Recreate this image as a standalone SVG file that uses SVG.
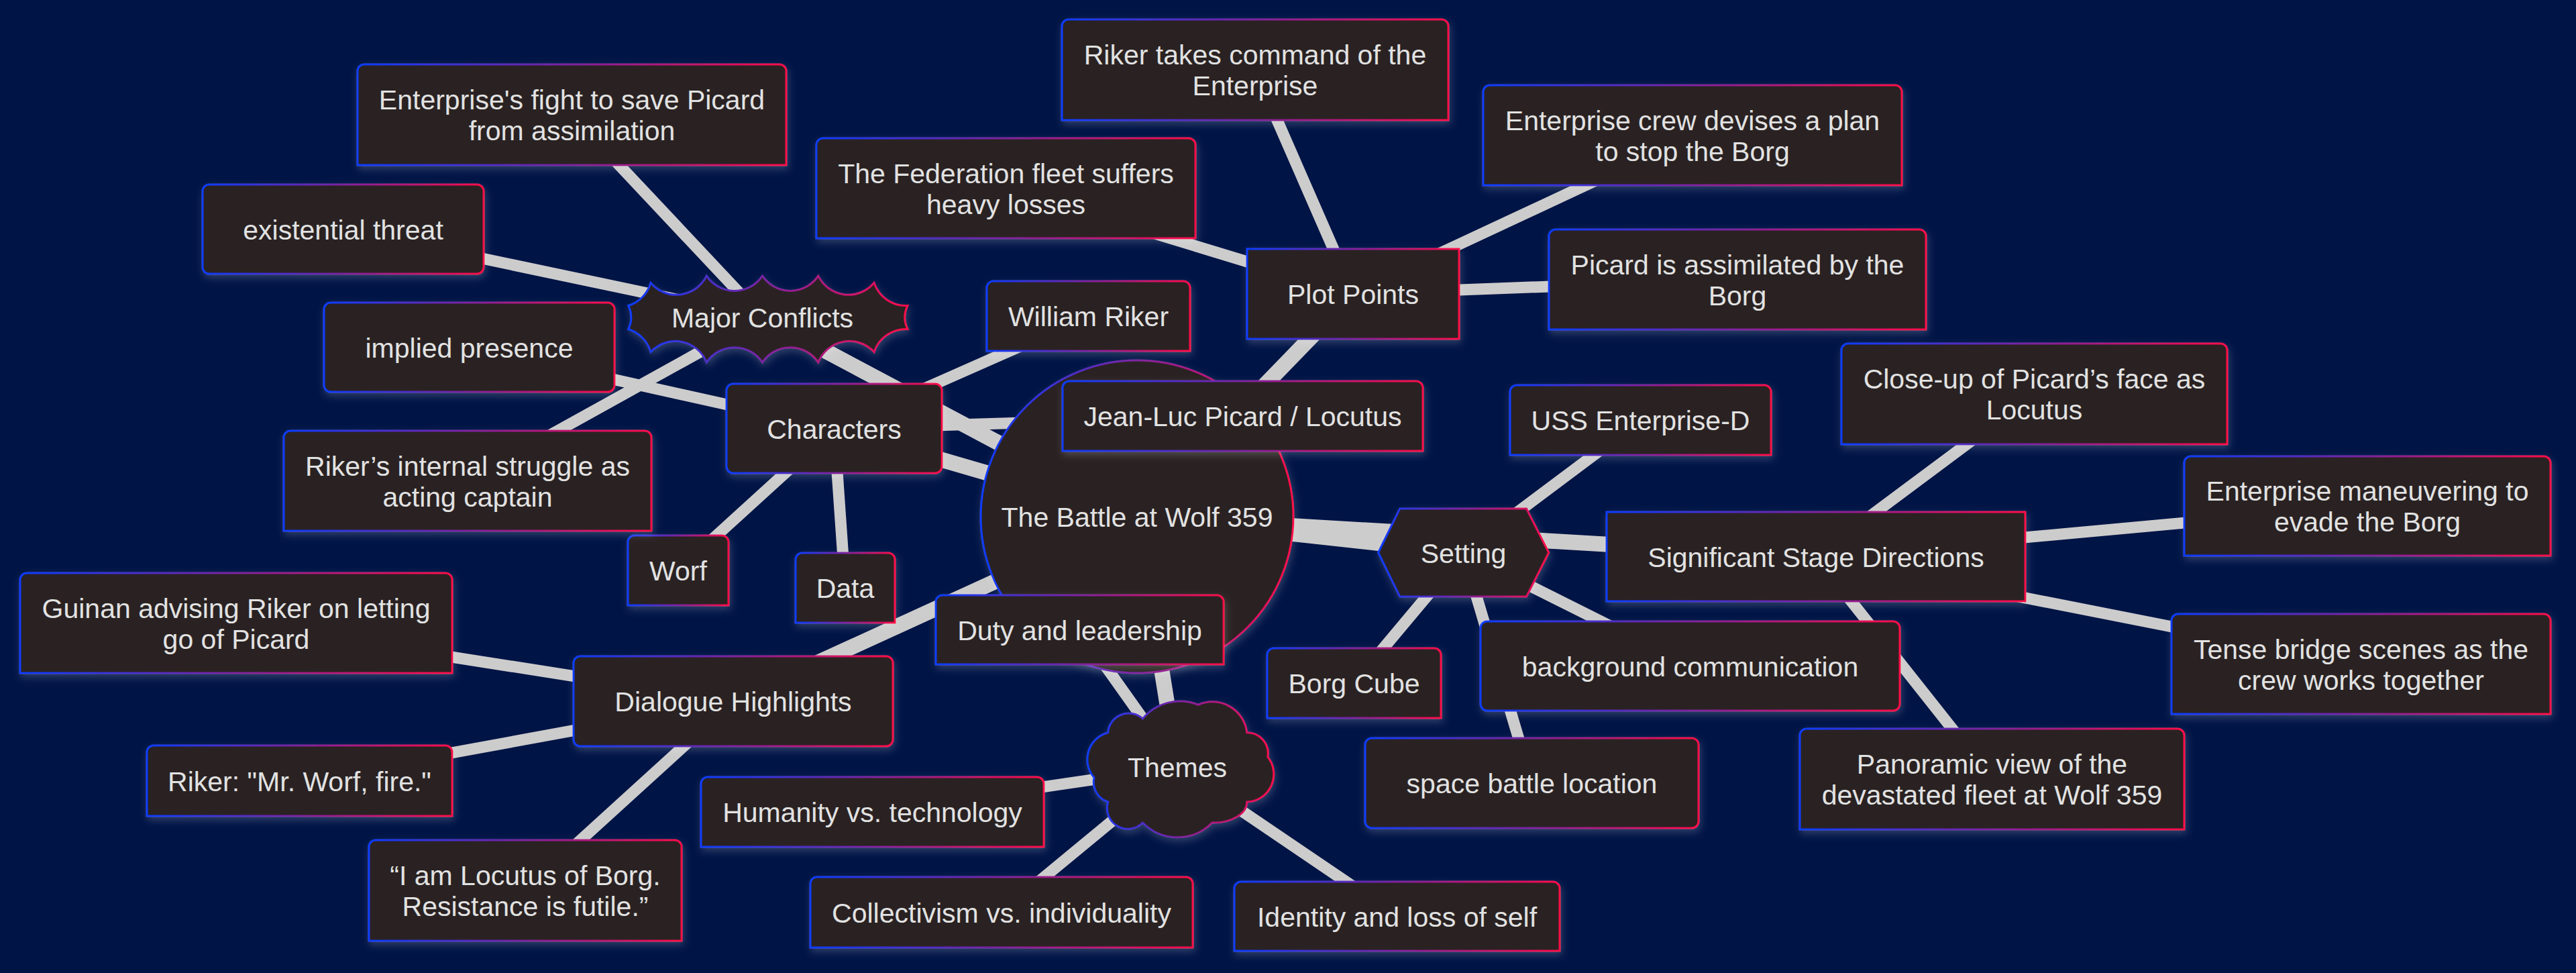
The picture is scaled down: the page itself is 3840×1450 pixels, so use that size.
<svg xmlns="http://www.w3.org/2000/svg" width="3840" height="1450" viewBox="0 0 3840 1450">
<defs>
<linearGradient id="bd" x1="0" y1="0" x2="1" y2="0">
<stop offset="0" stop-color="#0a3cff"/>
<stop offset="0.5" stop-color="#7e22a0"/>
<stop offset="1" stop-color="#ff0a4a"/>
</linearGradient>
<filter id="sh" x="-20%" y="-30%" width="140%" height="170%">
<feDropShadow dx="2" dy="5" stdDeviation="6" flood-color="#ffffff" flood-opacity="0.18"/>
</filter>
</defs>
<style>
.e0{stroke:#cccccc;stroke-width:23;fill:none}
.e1{stroke:#cccccc;stroke-width:17;fill:none}
.n{fill:#2a2020;stroke:url(#bd);stroke-width:3;filter:url(#sh)}
.t{font-family:"Liberation Sans",Arial,sans-serif;font-size:41px;fill:#e2e2e2;text-anchor:middle}
</style>
<rect x="0" y="0" width="3840" height="1450" fill="#001446"/>
<g id="connectors">
<line class="e0" x1="1695" y1="770" x2="1243.5" y2="638.5"/>
<line class="e0" x1="1695" y1="770" x2="1136.5" y2="473"/>
<line class="e0" x1="1695" y1="770" x2="2017" y2="438"/>
<line class="e0" x1="1695" y1="770" x2="2181.6" y2="823.5"/>
<line class="e0" x1="1695" y1="770" x2="2707" y2="829.5"/>
<line class="e0" x1="1695" y1="770" x2="1755" y2="1143.4"/>
<line class="e0" x1="1695" y1="770" x2="1093" y2="1045"/>
<line class="e1" x1="1243.5" y1="638.5" x2="1852.5" y2="620"/>
<line class="e1" x1="1243.5" y1="638.5" x2="1622.5" y2="471"/>
<line class="e1" x1="1243.5" y1="638.5" x2="1011" y2="850"/>
<line class="e1" x1="1243.5" y1="638.5" x2="1260" y2="876"/>
<line class="e1" x1="1243.5" y1="638.5" x2="699.5" y2="517.5"/>
<line class="e1" x1="1136.5" y1="473" x2="852.5" y2="171"/>
<line class="e1" x1="1136.5" y1="473" x2="511.5" y2="341.5"/>
<line class="e1" x1="1136.5" y1="473" x2="697" y2="716.5"/>
<line class="e1" x1="2017" y1="438" x2="1871" y2="104"/>
<line class="e1" x1="2017" y1="438" x2="1499.5" y2="280.5"/>
<line class="e1" x1="2017" y1="438" x2="2523" y2="201.5"/>
<line class="e1" x1="2017" y1="438" x2="2590" y2="416.5"/>
<line class="e1" x1="2181.6" y1="823.5" x2="2445.5" y2="626"/>
<line class="e1" x1="2181.6" y1="823.5" x2="2018.5" y2="1018"/>
<line class="e1" x1="2181.6" y1="823.5" x2="2519.5" y2="992.5"/>
<line class="e1" x1="2181.6" y1="823.5" x2="2283.5" y2="1167"/>
<line class="e1" x1="2707" y1="829.5" x2="3032.5" y2="587"/>
<line class="e1" x1="2707" y1="829.5" x2="3529" y2="754"/>
<line class="e1" x1="2707" y1="829.5" x2="3519.5" y2="989.5"/>
<line class="e1" x1="2707" y1="829.5" x2="2969.5" y2="1161"/>
<line class="e1" x1="1755" y1="1143.4" x2="1609.5" y2="938.5"/>
<line class="e1" x1="1755" y1="1143.4" x2="1300.5" y2="1210"/>
<line class="e1" x1="1755" y1="1143.4" x2="1493" y2="1359.5"/>
<line class="e1" x1="1755" y1="1143.4" x2="2082.5" y2="1365.5"/>
<line class="e1" x1="1093" y1="1045" x2="352" y2="928.5"/>
<line class="e1" x1="1093" y1="1045" x2="446.5" y2="1163.5"/>
<line class="e1" x1="1093" y1="1045" x2="783" y2="1327"/>
</g>
<g id="root"><circle class="n" cx="1695" cy="770" r="233"/><text class="t" x="1695" y="785">The Battle at Wolf 359</text></g>
<g id="characters"><rect class="n" x="1083" y="572" width="321" height="133" rx="10"/><text class="t" x="1243.5" y="653.5">Characters</text></g>
<g id="jean-luc"><path class="n" d="M1584 672V578A10 10 0 0 1 1594 568H2111A10 10 0 0 1 2121 578V672Z"/><text class="t" x="1852.5" y="635">Jean-Luc Picard / Locutus</text></g>
<g id="william-riker"><path class="n" d="M1471 523V429A10 10 0 0 1 1481 419H1764A10 10 0 0 1 1774 429V523Z"/><text class="t" x="1622.5" y="486">William Riker</text></g>
<g id="worf"><path class="n" d="M936 902V808A10 10 0 0 1 946 798H1076A10 10 0 0 1 1086 808V902Z"/><text class="t" x="1011" y="865">Worf</text></g>
<g id="data"><path class="n" d="M1186 928V834A10 10 0 0 1 1196 824H1324A10 10 0 0 1 1334 834V928Z"/><text class="t" x="1260" y="891">Data</text></g>
<g id="implied-presence"><rect class="n" x="483" y="451" width="433" height="133" rx="10"/><text class="t" x="699.5" y="532.5">implied presence</text></g>
<g id="major-conflicts"><path class="n" transform="translate(970 421.5)" d="M0 0a50,50 1 0,0 83.25,-10.3a50,50 1 0,0 83.25,0a50,50 1 0,0 83.25,0a50,50 1 0,0 83.25,10.3a50,50 1 0,0 49.95,33.99a40,40 1 0,0 0,35.02a50,50 1 0,0 -49.95,33.99a50,50 1 0,0 -83.25,15.45a50,50 1 0,0 -83.25,0a50,50 1 0,0 -83.25,0a50,50 1 0,0 -83.25,-15.45a50,50 1 0,0 -33.3,-33.99a40,40 1 0,0 0,-35.02a50,50 1 0,0 33.3,-33.99H0V0Z"/><text class="t" x="1136.5" y="488">Major Conflicts</text></g>
<g id="fight"><path class="n" d="M533 246V106A10 10 0 0 1 543 96H1162A10 10 0 0 1 1172 106V246Z"/><text class="t" x="852.5" y="163">Enterprise's fight to save Picard</text><text class="t" x="852.5" y="209">from assimilation</text></g>
<g id="existential-threat"><rect class="n" x="302" y="275" width="419" height="133" rx="10"/><text class="t" x="511.5" y="356.5">existential threat</text></g>
<g id="riker-struggle"><path class="n" d="M423 791V652A10 10 0 0 1 433 642H961A10 10 0 0 1 971 652V791Z"/><text class="t" x="697" y="708.5">Riker’s internal struggle as</text><text class="t" x="697" y="754.5">acting captain</text></g>
<g id="plot-points"><rect class="n" x="1859" y="371" width="316" height="134"/><text class="t" x="2017" y="453">Plot Points</text></g>
<g id="riker-command"><path class="n" d="M1583 179V39A10 10 0 0 1 1593 29H2149A10 10 0 0 1 2159 39V179Z"/><text class="t" x="1871" y="96">Riker takes command of the</text><text class="t" x="1871" y="142">Enterprise</text></g>
<g id="federation-losses"><path class="n" d="M1217 355V216A10 10 0 0 1 1227 206H1772A10 10 0 0 1 1782 216V355Z"/><text class="t" x="1499.5" y="272.5">The Federation fleet suffers</text><text class="t" x="1499.5" y="318.5">heavy losses</text></g>
<g id="crew-plan"><path class="n" d="M2211 276V137A10 10 0 0 1 2221 127H2825A10 10 0 0 1 2835 137V276Z"/><text class="t" x="2523" y="193.5">Enterprise crew devises a plan</text><text class="t" x="2523" y="239.5">to stop the Borg</text></g>
<g id="picard-assimilated"><path class="n" d="M2309 491V352A10 10 0 0 1 2319 342H2861A10 10 0 0 1 2871 352V491Z"/><text class="t" x="2590" y="408.5">Picard is assimilated by the</text><text class="t" x="2590" y="454.5">Borg</text></g>
<g id="setting"><polygon class="n" points="2054.6,823.5 2086.7,758 2275.5,758 2308.7,823.5 2275.5,889 2086.7,889"/><text class="t" x="2181.6" y="839">Setting</text></g>
<g id="uss-enterprise"><path class="n" d="M2251 678V584A10 10 0 0 1 2261 574H2630A10 10 0 0 1 2640 584V678Z"/><text class="t" x="2445.5" y="641">USS Enterprise-D</text></g>
<g id="borg-cube"><path class="n" d="M1889 1070V976A10 10 0 0 1 1899 966H2138A10 10 0 0 1 2148 976V1070Z"/><text class="t" x="2018.5" y="1033">Borg Cube</text></g>
<g id="background-communication"><rect class="n" x="2207" y="926" width="625" height="133" rx="10"/><text class="t" x="2519.5" y="1007.5">background communication</text></g>
<g id="space-battle"><rect class="n" x="2035" y="1100" width="497" height="134" rx="10"/><text class="t" x="2283.5" y="1182">space battle location</text></g>
<g id="stage-directions"><rect class="n" x="2395" y="763" width="624" height="133"/><text class="t" x="2707" y="844.5">Significant Stage Directions</text></g>
<g id="close-up"><path class="n" d="M2745 662V522A10 10 0 0 1 2755 512H3310A10 10 0 0 1 3320 522V662Z"/><text class="t" x="3032.5" y="579">Close-up of Picard’s face as</text><text class="t" x="3032.5" y="625">Locutus</text></g>
<g id="maneuvering"><path class="n" d="M3256 828V690A10 10 0 0 1 3266 680H3792A10 10 0 0 1 3802 690V828Z"/><text class="t" x="3529" y="746">Enterprise maneuvering to</text><text class="t" x="3529" y="792">evade the Borg</text></g>
<g id="bridge-scenes"><path class="n" d="M3237 1064V925A10 10 0 0 1 3247 915H3792A10 10 0 0 1 3802 925V1064Z"/><text class="t" x="3519.5" y="981.5">Tense bridge scenes as the</text><text class="t" x="3519.5" y="1027.5">crew works together</text></g>
<g id="panoramic"><path class="n" d="M2683 1236V1096A10 10 0 0 1 2693 1086H3246A10 10 0 0 1 3256 1096V1236Z"/><text class="t" x="2969.5" y="1153">Panoramic view of the</text><text class="t" x="2969.5" y="1199">devastated fleet at Wolf 359</text></g>
<g id="themes"><path class="n" transform="translate(1651.7 1091.7)" d="M0 0a31.05,31.05 0 0,1 51.75,-20.7a72.45,72.45 1 0,1 82.8,-20.7a51.75,51.75 1 0,1 72.45,41.4a31.05,31.05 1 0,1 31.05,36.16a41.4,41.4 1 0,1 -31.05,67.15a51.75,31.05 1 0,1 -51.75,31.05a72.45,72.45 1 0,1 -103.5,0a31.05,31.05 1 0,1 -51.75,-31.05a31.05,31.05 1 0,1 -20.7,-36.16a41.4,41.4 1 0,1 20.7,-67.15H0V0Z"/><text class="t" x="1755" y="1158">Themes</text></g>
<g id="duty"><path class="n" d="M1395 990V897A10 10 0 0 1 1405 887H1814A10 10 0 0 1 1824 897V990Z"/><text class="t" x="1609.5" y="953.5">Duty and leadership</text></g>
<g id="humanity"><path class="n" d="M1045 1262V1168A10 10 0 0 1 1055 1158H1546A10 10 0 0 1 1556 1168V1262Z"/><text class="t" x="1300.5" y="1225">Humanity vs. technology</text></g>
<g id="collectivism"><path class="n" d="M1208 1412V1317A10 10 0 0 1 1218 1307H1768A10 10 0 0 1 1778 1317V1412Z"/><text class="t" x="1493" y="1374.5">Collectivism vs. individuality</text></g>
<g id="identity"><path class="n" d="M1840 1417V1324A10 10 0 0 1 1850 1314H2315A10 10 0 0 1 2325 1324V1417Z"/><text class="t" x="2082.5" y="1380.5">Identity and loss of self</text></g>
<g id="dialogue"><rect class="n" x="855" y="978" width="476" height="134" rx="10"/><text class="t" x="1093" y="1060">Dialogue Highlights</text></g>
<g id="guinan"><path class="n" d="M30 1003V864A10 10 0 0 1 40 854H664A10 10 0 0 1 674 864V1003Z"/><text class="t" x="352" y="920.5">Guinan advising Riker on letting</text><text class="t" x="352" y="966.5">go of Picard</text></g>
<g id="mr-worf"><path class="n" d="M219 1216V1121A10 10 0 0 1 229 1111H664A10 10 0 0 1 674 1121V1216Z"/><text class="t" x="446.5" y="1178.5">Riker: "Mr. Worf, fire."</text></g>
<g id="locutus"><path class="n" d="M550 1402V1262A10 10 0 0 1 560 1252H1006A10 10 0 0 1 1016 1262V1402Z"/><text class="t" x="783" y="1319">“I am Locutus of Borg.</text><text class="t" x="783" y="1365">Resistance is futile.”</text></g>
</svg>
